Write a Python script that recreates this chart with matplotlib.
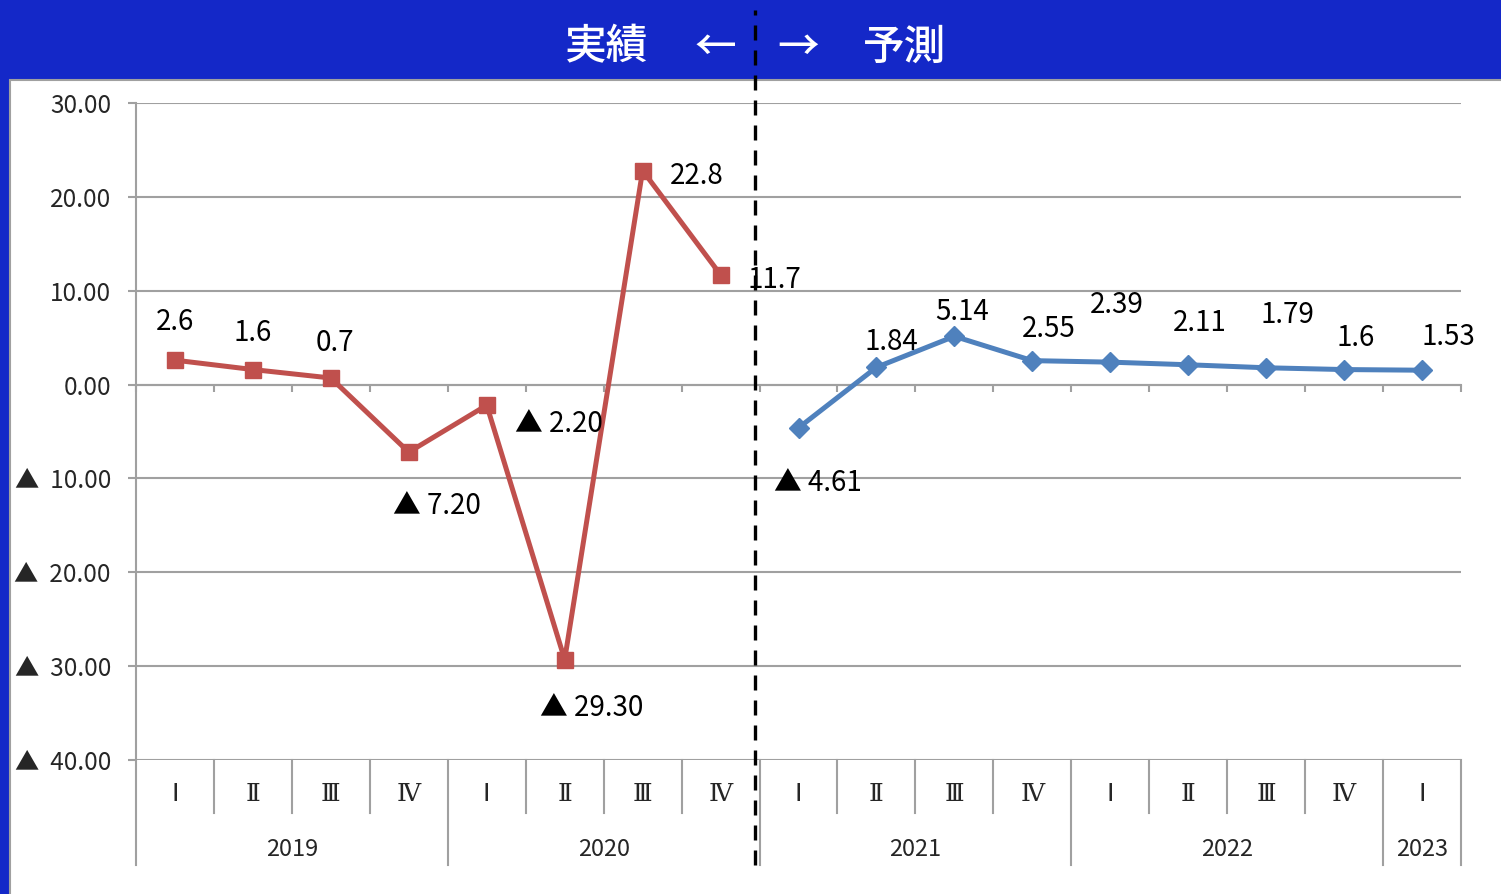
import matplotlib
matplotlib.use("Agg")
import matplotlib.pyplot as plt
import matplotlib.patches as mpatches
import numpy as np

# quarterly growth rates: actual (red) then forecast (blue)
quarters = ['Ⅰ', 'Ⅱ', 'Ⅲ', 'Ⅳ', 'Ⅰ', 'Ⅱ', 'Ⅲ', 'Ⅳ',
            'Ⅰ', 'Ⅱ', 'Ⅲ', 'Ⅳ', 'Ⅰ', 'Ⅱ', 'Ⅲ', 'Ⅳ', 'Ⅰ']
years = ['2019', '2019', '2019', '2019', '2020', '2020', '2020', '2020',
         '2021', '2021', '2021', '2021', '2022', '2022', '2022', '2022', '2023']
actual = [2.6, 1.6, 0.7, -7.2, -2.2, -29.3, 22.8, 11.7]
forecast = [-4.61, 1.84, 5.14, 2.55, 2.39, 2.11, 1.79, 1.6, 1.53]

# label offsets in pixels (dx, dy)
actual_offsets = [(0, 38), (0, 37), (4, 35), (28, -54), (72, -19), (27, -48), (54, -5), (54, -5)]
forecast_offsets = [(19, -55), (15, 25), (8, 24), (16, 32), (7, 57), (12, 42), (21, 53), (12, 32), (26, 33)]

W, H = 1501, 894
BLUE_BG = '#1428C8'
RED = '#C0504D'
BLUE = '#4F81BD'
GRID = '#A0A0A0'

plt.rcParams['font.family'] = ['Noto Sans CJK JP', 'DejaVu Sans']

fig = plt.figure(figsize=(W / 100, H / 100), dpi=100, facecolor=BLUE_BG)

# white chart area with gray edge
bg = mpatches.Rectangle((10 / W, -0.01), 1.0, (H - 80) / H + 0.01, transform=fig.transFigure,
                        facecolor='white', edgecolor=GRID, lw=1.5, zorder=-5)
fig.patches.append(bg)

ax = fig.add_axes([136 / W, (H - 760) / H, (1461 - 136) / W, 657 / H])
ax.patch.set_alpha(0)
ax.set_zorder(1)

n = len(quarters)
x = np.arange(n)
xa = x[:len(actual)]
xf = x[len(actual):]

ax.plot(xa, actual, color=RED, lw=3.6, marker='s', ms=12, zorder=5)
ax.plot(xf, forecast, color=BLUE, lw=3.6, marker='D', ms=10, zorder=5)

def fmt(v):
    if v < 0:
        return f"▲ {abs(v):.2f}"
    return f"{v:g}"

def tick_fmt(v):
    if v < 0:
        return f"▲  {abs(v):.2f}"
    return f"{v:.2f}"

for xi, v, off in zip(xa, actual, actual_offsets):
    ax.annotate(fmt(v), (xi, v), xytext=off, textcoords='offset pixels',
                ha='center', va='center', fontsize=20, color='black', zorder=6)
for xi, v, off in zip(xf, forecast, forecast_offsets):
    ax.annotate(fmt(v), (xi, v), xytext=off, textcoords='offset pixels',
                ha='center', va='center', fontsize=20, color='black', zorder=6)

yt = np.arange(-40, 31, 10)
ax.set_xlim(-0.5, n - 0.5)
ax.set_ylim(-40, 30)
ax.set_yticks(yt)
ax.set_yticklabels([tick_fmt(t) for t in yt])
ax.yaxis.grid(True, color=GRID, lw=1.5)
ax.set_axisbelow(True)

for s in ['top', 'right']:
    ax.spines[s].set_visible(False)
ax.spines['left'].set_color(GRID)
ax.spines['left'].set_linewidth(1.5)
ax.spines['bottom'].set_position(('data', 0))
ax.spines['bottom'].set_color(GRID)
ax.spines['bottom'].set_linewidth(1.5)

ax.set_xticks(np.arange(-0.5, n, 1.0))
ax.set_xticklabels([])
ax.tick_params(axis='x', direction='out', length=5, color=GRID, width=1.5)
ax.tick_params(axis='y', direction='out', length=6, color=GRID, width=1.5,
               labelsize=17.5, labelcolor='#262626', pad=12)

# category table under the plot
trans = ax.get_xaxis_transform()
for b in np.arange(-0.5, n, 1.0):
    left = int(b + 0.5)
    year_edge = left == 0 or left == n or years[left] != years[left - 1]
    bottom = -0.16 if year_edge else -0.081
    ax.plot([b, b], [0, bottom], transform=trans, color=GRID, lw=1.5, clip_on=False)

for xi, q in zip(x, quarters):
    fam = ['DejaVu Sans'] if q == 'Ⅰ' else ['DejaVu Serif']
    ax.text(xi, -0.052, q, transform=trans, ha='center', va='center',
            fontsize=18, color='#262626', family=fam)

for yr in dict.fromkeys(years):
    idx = [i for i, y in enumerate(years) if y == yr]
    ax.text(np.mean(idx), -0.136, yr, transform=trans, ha='center', va='center',
            fontsize=17, color='#262626')

# actual / forecast divider
ax.plot([len(actual) - 0.56] * 2, [-0.16, 1.1416], transform=trans, color='black',
        lw=2.4, dashes=(4.5, 3), clip_on=False, zorder=10)

# banner text
ty = 1 - 47 / H
for label, px in [('実績', 607), ('←', 715), ('→', 798), ('予測', 905)]:
    fig.text(px / W, ty, label, color='white', fontsize=30, ha='center', va='center',
             family=['Noto Sans CJK JP'], weight='medium')

fig.savefig('out.png', dpi=100, facecolor=fig.get_facecolor())
